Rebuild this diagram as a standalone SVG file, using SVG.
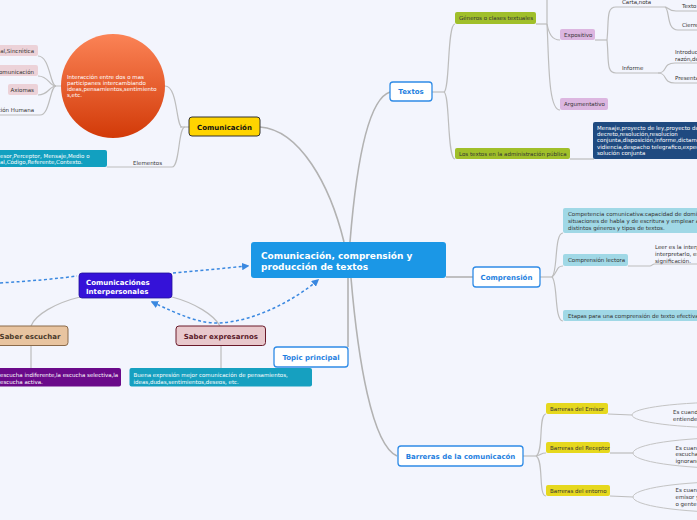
<svg xmlns="http://www.w3.org/2000/svg" width="697" height="520" viewBox="0 0 697 520">
<defs>
<style>
text{font-family:"DejaVu Sans",Verdana,sans-serif}
.c{fill:none;stroke:#bdbdbd;stroke-width:1.2}
.c2{fill:none;stroke:#b2b2b2;stroke-width:1.6}
.d{fill:none;stroke:#3a88e0;stroke-width:1.5;stroke-dasharray:3 2.5}
.s{font-size:5.5px;fill:#333}
.sw{font-size:5.5px;fill:#fff}
.b{font-size:7px;font-weight:bold}
.main{fill:#fff;stroke:#2f8be6;stroke-width:1.3}
.mt{fill:#1f7fe0;font-size:7px;font-weight:bold}
.pk{fill:#ecd2d8}
.gr{fill:#a0bf2a}
.li{fill:#dcb6e0}
.lb{fill:#a0d8e6}
.ye{fill:#e6d81e}
.el{fill:#f3f5fd;stroke:#c4c4c4;stroke-width:1}
</style>
<linearGradient id="og" x1="0" y1="0" x2="0" y2="1">
<stop offset="0" stop-color="#fb8356"/>
<stop offset="1" stop-color="#d23a08"/>
</linearGradient>
<marker id="ar" viewBox="0 0 10 10" refX="8" refY="5" markerWidth="5" markerHeight="5" orient="auto-start-reverse">
<path d="M0,0 L10,5 L0,10 z" fill="#3a88e0"/>
</marker>
</defs>
<rect width="697" height="520" fill="#f3f5fd"/>

<g id="connectors">
<path class="c2" d="M260,127 C300,130 330,185 344,242"/>
<path class="c2" d="M350,242 C355,180 365,100 390,92"/>
<path class="c2" d="M446,277 L473,277"/>
<path class="c2" d="M348,278 L348,347"/>
<path class="c2" d="M351,278 C358,360 372,445 397,456"/>
<path class="c" d="M180,127 L189,127"/>
<path class="c" d="M165,86 C178,86 176,127 182,127"/>
<path class="c" d="M107,167 L172,167 C180,167 178,127 185,127"/>
<path class="c" d="M38,56 C50,56 50,86 56,86"/>
<path class="c" d="M38,76 C49,76 49,86 56,86"/>
<path class="c" d="M38,95 C49,95 49,86 56,86"/>
<path class="c" d="M0,115 L40,115 C50,115 50,86 56,86 L63,86"/>
<path class="c" d="M432,92 L444,92"/>
<path class="c" d="M444,92 C450,90 447,24 455,24"/>
<path class="c" d="M444,92 C450,94 447,159 455,159"/>
<path class="c" d="M536,24 L547,24"/>
<path class="c" d="M547,24 C547,15 547,5 547,-2"/>
<path class="c" d="M547,24 C549,34 552,40 560,40"/>
<path class="c" d="M547,24 C549,60 548,110 560,110"/>
<path class="c" d="M595,40 L607,40"/>
<path class="c" d="M607,40 C609,20 606,7 616,7 L665,7"/>
<path class="c" d="M607,40 C609,60 606,73 616,73 L658,73"/>
<path class="c" d="M665,7 C668,7 668,11 676,11 L697,11"/>
<path class="c" d="M665,7 C670,9 666,30 678,30 L697,30"/>
<path class="c" d="M658,73 C668,73 662,63 675,63 L697,63"/>
<path class="c" d="M658,73 C668,73 662,83 675,83 L697,83"/>
<path class="c" d="M570,159 L594,159"/>
<path class="c" d="M540,277 L552,277"/>
<path class="c" d="M552,277 C558,272 554,233 563,233"/>
<path class="c" d="M552,277 C558,272 556,266 563,266"/>
<path class="c" d="M552,277 C558,282 554,321 563,321"/>
<path class="c" d="M628,266 L650,266 C652,266 652,264 655,264 L697,264"/>
<path class="c" d="M523,456 L536,456"/>
<path class="c" d="M536,456 C544,452 538,414 546,414"/>
<path class="c" d="M536,456 C542,455 540,453 546,453"/>
<path class="c" d="M536,456 C544,460 538,496 546,496"/>
<path class="c" d="M608,414 L632,415"/>
<path class="c" d="M610,453 L633,453"/>
<path class="c" d="M610,496 L633,497"/>
<path class="c" d="M80,297 C55,303 35,315 31,326"/>
<path class="c" d="M172,297 C195,303 214,315 220,326"/>
<path class="c" d="M31,346 L31,368"/>
<path class="c" d="M221,346 L221,368"/>
<path class="d" d="M0,283 C30,281 55,279 77,276"/>
<path class="d" d="M173,273 L248,266" marker-end="url(#ar)"/>
<path class="d" d="M152,302 C180,315 200,324 220,323 C255,321 295,300 318,280" marker-start="url(#ar)" marker-end="url(#ar)"/>
</g>

<g id="central">
<rect x="251" y="242" width="195" height="36" rx="3" fill="#1b97e6"/>
<text x="261" y="258.5" fill="#fff" font-size="9" font-weight="bold">Comunicación, comprensión y</text>
<text x="261" y="269.5" fill="#fff" font-size="9" font-weight="bold">producción de textos</text>
</g>

<g id="comunicacion">
<rect x="189" y="117" width="71" height="19" rx="3" fill="#ffd400" stroke="#333" stroke-width="1"/>
<text x="224.5" y="129.8" text-anchor="middle" class="b" fill="#111">Comunicación</text>
</g>
<g id="interaccion">
<circle cx="113" cy="86" r="52" fill="url(#og)"/>
<text x="67" y="78.5" class="sw" font-size="5.2">Interacción entre dos o mas</text>
<text x="67" y="84.8" class="sw" font-size="5.2">participanes intercambiando</text>
<text x="67" y="91.1" class="sw" font-size="5.2">ideas,pensamientos,sentimiento</text>
<text x="67" y="97.4" class="sw" font-size="5.2">s,etc.</text>
</g>
<g id="sincretica">
<rect x="-4" y="45" width="42" height="11" rx="2" class="pk"/>
<text x="34" y="53" text-anchor="end" class="s">al,Sincrética</text>
</g>
<g id="omunicacion">
<rect x="-4" y="65" width="42" height="11" rx="2" class="pk"/>
<text x="34" y="73.5" text-anchor="end" class="s">omunicación</text>
</g>
<g id="axiomas">
<rect x="8" y="84" width="30" height="11" rx="2" class="pk"/>
<text x="34" y="92" text-anchor="end" class="s">Axiomas</text>
</g>
<g id="humana">
<text x="34" y="112" text-anchor="end" class="s">ción Humana</text>
</g>
<g id="elementos">
<text x="133" y="164.5" class="s">Elementos</text>
</g>
<g id="elementos-det">
<rect x="-4" y="150" width="111" height="17" rx="2" fill="#12a0c0"/>
<text x="0" y="158" class="sw">esor,Perceptor, Mensaje,Medio o</text>
<text x="0" y="164.3" class="sw">al,Código,Referente,Contexto.</text>
</g>

<g id="textos">
<rect x="390" y="82" width="42" height="19" rx="3" class="main"/>
<text x="411" y="94" text-anchor="middle" class="mt">Textos</text>
</g>
<g id="generos">
<rect x="455" y="12" width="81" height="12" rx="2" class="gr"/>
<text x="459" y="20.3" class="s">Géneros o clases textuales</text>
</g>
<g id="expositivo">
<rect x="560" y="29" width="35" height="11" rx="2" class="li"/>
<text x="564" y="36.8" class="s">Expositivo</text>
</g>
<g id="argumentativo">
<rect x="560" y="98" width="48" height="12" rx="2" class="li"/>
<text x="564" y="106" class="s">Argumentativo</text>
</g>
<g id="carta"><text x="622" y="4" class="s">Carta,nota</text></g>
<g id="informe"><text x="622" y="70" class="s">Informe</text></g>
<g id="texto"><text x="682" y="7.5" class="s">Texto</text></g>
<g id="cierre"><text x="682" y="26.5" class="s">Cierre</text></g>
<g id="introduccion">
<text x="675" y="54" class="s">Introducción</text>
<text x="675" y="60.5" class="s">razón,de</text>
</g>
<g id="presenta"><text x="675" y="80" class="s">Presentación</text></g>
<g id="admin">
<rect x="455" y="148" width="115" height="11" rx="2" class="gr"/>
<text x="459" y="155.7" class="s">Los textos en la administración pública</text>
</g>
<g id="admin-det">
<rect x="593" y="122" width="108" height="37" rx="2" fill="#1f4a80"/>
<text x="597" y="129.7" class="sw">Mensaje,proyecto de ley,proyecto de</text>
<text x="597" y="136" class="sw">decreto,resolución,resolucíon</text>
<text x="597" y="142.3" class="sw">conjunta,disposición,informe,dictamen</text>
<text x="597" y="148.7" class="sw">vidiencia,despacho telegrafico,expediente</text>
<text x="597" y="155.1" class="sw">solución conjunta</text>
</g>

<g id="comprension">
<rect x="473" y="267" width="67" height="20" rx="3" class="main"/>
<text x="506.5" y="279.6" text-anchor="middle" class="mt">Comprensión</text>
</g>
<g id="competencia">
<rect x="563" y="208" width="140" height="25" rx="2" class="lb"/>
<text x="568" y="216.3" class="s">Competencia comunicativa:capacidad de dominar</text>
<text x="568" y="223" class="s">situaciones de habla y de escritura y emplear a</text>
<text x="568" y="229.7" class="s">distintos géneros y tipos de textos.</text>
</g>
<g id="lectora">
<rect x="563" y="254" width="65" height="12" rx="2" class="lb"/>
<text x="568" y="262" class="s">Comprensión lectora</text>
</g>
<g id="leer">
<text x="655" y="249" class="s">Leer es la interpretación</text>
<text x="655" y="255.5" class="s">interpretarlo, es</text>
<text x="655" y="262.5" class="s">significación.</text>
</g>
<g id="etapas">
<rect x="563" y="310" width="140" height="11" rx="2" class="lb"/>
<text x="568" y="317.8" class="s">Etapas para una comprensión de texto efectiva</text>
</g>

<g id="barreras">
<rect x="398" y="446" width="125" height="20" rx="3" class="main"/>
<text x="460.5" y="458.6" text-anchor="middle" class="mt">Barreras de la comunicacón</text>
</g>
<g id="emisor">
<rect x="546" y="403" width="62" height="11" rx="2" class="ye"/>
<text x="550" y="411" class="s">Barreras del Emisor</text>
</g>
<g id="receptor">
<rect x="546" y="442" width="64" height="11" rx="2" class="ye"/>
<text x="550" y="449.8" class="s">Barreras del Receptor</text>
</g>
<g id="entorno">
<rect x="546" y="485" width="64" height="11" rx="2" class="ye"/>
<text x="550" y="493" class="s">Barreras del entorno</text>
</g>
<g id="emisor-det">
<ellipse cx="735" cy="415" rx="103" ry="13" class="el"/>
<text x="673" y="413.5" class="s">Es cuando</text>
<text x="673" y="420.5" class="s">entiende</text>
</g>
<g id="receptor-det">
<ellipse cx="737" cy="453" rx="104" ry="15.5" class="el"/>
<text x="675.5" y="449.5" class="s">Es cuando</text>
<text x="675.5" y="456" class="s">escucha</text>
<text x="675.5" y="462.5" class="s">ignorancia</text>
</g>
<g id="entorno-det">
<ellipse cx="737" cy="497" rx="104" ry="15.5" class="el"/>
<text x="675.5" y="492" class="s">Es cuando</text>
<text x="675.5" y="499" class="s">emisor y</text>
<text x="675.5" y="506" class="s">o gente</text>
</g>

<g id="interpersonales">
<rect x="79" y="273" width="93" height="25" rx="3" fill="#3512d8" stroke="#22119a" stroke-width="0.8"/>
<text x="86" y="285" class="b" fill="#fff">Comunicaciónes</text>
<text x="86" y="293.5" class="b" fill="#fff">Interpersonales</text>
</g>
<g id="escuchar">
<rect x="-6" y="326" width="74" height="19.5" rx="3" fill="#e8c4a0" stroke="#8a6a4a" stroke-width="1"/>
<text x="30" y="338.5" text-anchor="middle" class="b" fill="#4a3a2a">Saber escuchar</text>
</g>
<g id="escuchar-det">
<rect x="-4" y="368" width="125" height="18.5" rx="2" fill="#6a0a8a"/>
<text x="0" y="377.3" class="sw">escucha indiferente,la escucha selectiva,la</text>
<text x="0" y="383.5" class="sw">escucha activa.</text>
</g>
<g id="expresarnos">
<rect x="176" y="326" width="89.5" height="19.5" rx="3" fill="#e8c8cc" stroke="#6a1a2a" stroke-width="1"/>
<text x="220.8" y="338.5" text-anchor="middle" class="b" fill="#5a1a2a">Saber expresarnos</text>
</g>
<g id="expresarnos-det">
<rect x="129.5" y="368" width="182.5" height="18.5" rx="2" fill="#16a0c0"/>
<text x="133.5" y="377.3" class="sw">Buena expresión mejor comunicación de pensamientos,</text>
<text x="133.5" y="383.5" class="sw">ideas,dudas,sentimientos,deseos, etc.</text>
</g>
<g id="topic">
<rect x="274" y="347" width="74" height="20" rx="3" class="main"/>
<text x="311" y="359.6" text-anchor="middle" class="mt">Topic principal</text>
</g>
</svg>
